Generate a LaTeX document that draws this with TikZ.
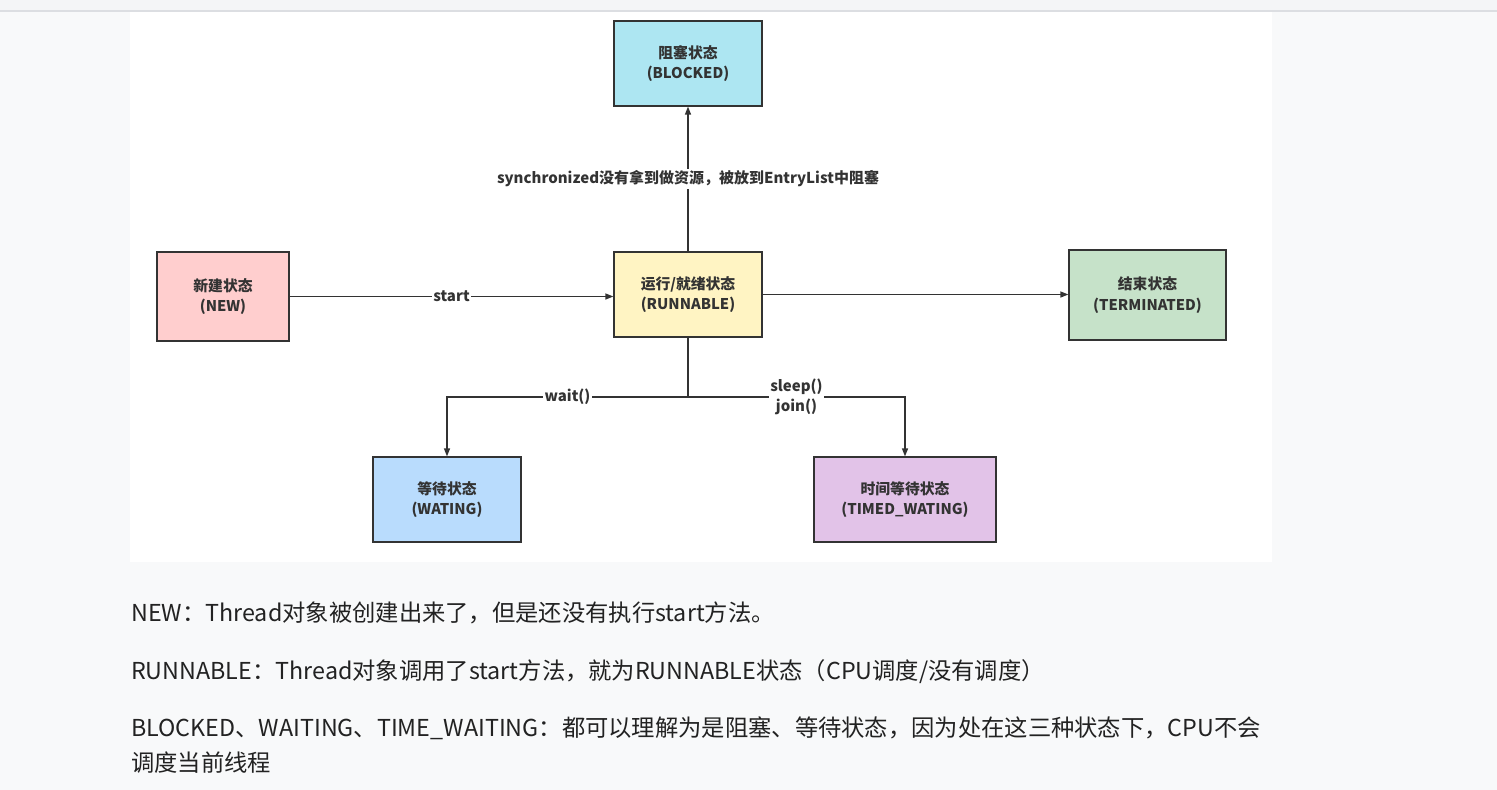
\documentclass[tikz,border=0pt]{standalone}
\usepackage{fontspec}
\setmainfont{Noto Sans CJK SC}
\usetikzlibrary{arrows.meta}
\definecolor{pagebg}{HTML}{F8F9FA}
\definecolor{topbar}{HTML}{F4F5F7}
\definecolor{topline}{HTML}{DCDEE2}
\definecolor{ink}{HTML}{333333}
\definecolor{bodyink}{HTML}{222222}
\definecolor{cblocked}{HTML}{ADE6F2}
\definecolor{cnew}{HTML}{FFCECE}
\definecolor{crun}{HTML}{FFF4C3}
\definecolor{cterm}{HTML}{C6E2C9}
\definecolor{cwait}{HTML}{B9DCFD}
\definecolor{ctimed}{HTML}{E2C3E8}
\tikzset{
  statebox/.style={draw=ink, line width=1.2pt, align=center, inner sep=0pt,
    font=\fontsize{14.8}{20.5}\selectfont\bfseries, text=ink},
  conn/.style={draw=ink, line width=1.3pt, -{Triangle[length=8pt,width=6pt]}},
  plain/.style={draw=ink, line width=1.3pt},
  elabel/.style={fill=white, inner sep=1.5pt, text=ink, align=center,
    font=\fontsize{15}{20}\selectfont\bfseries},
  bodytext/.style={anchor=base west, inner sep=0pt, text=bodyink,
    font=\fontsize{23.3}{27}\selectfont}
}
\begin{document}
\begin{tikzpicture}[x=1pt,y=-1pt]
\useasboundingbox (0,0) rectangle (1497,790);
\fill[pagebg] (0,0) rectangle (1497,790);
\fill[topbar] (0,0) rectangle (1497,10);
\fill[topline] (0,10) rectangle (1497,11.5);
\fill[white] (130,12) rectangle (1272,562);

\node[statebox, fill=cblocked, minimum width=148pt, minimum height=85pt] (blocked) at (688,63.5) {阻塞状态\\(BLOCKED)};
\node[statebox, fill=cnew, minimum width=132pt, minimum height=89pt] (new) at (223,296.5) {新建状态\\(NEW)};
\node[statebox, fill=crun, minimum width=148pt, minimum height=85pt] (run) at (688,294.5) {运行/就绪状态\\(RUNNABLE)};
\node[statebox, fill=cterm, minimum width=157pt, minimum height=90pt] (term) at (1147.5,295) {结束状态\\(TERMINATED)};
\node[statebox, fill=cwait, minimum width=148pt, minimum height=85pt] (wait) at (447,499.5) {等待状态\\(WATING)};
\node[statebox, fill=ctimed, minimum width=182pt, minimum height=85pt] (timed) at (905,499.5) {时间等待状态\\(TIMED\_WATING)};

\draw[conn] (new) -- node[elabel]{start} (new -| run.west);
\draw[conn] (run.north) -- node[elabel]{synchronized没有拿到做资源，被放到EntryList中阻塞} (blocked.south);
\draw[conn] (run.east) -- (run.east -| term.west);
\coordinate (split) at (688,397);
\draw[plain] (run.south) -- (split);
\draw[conn] (split) -| node[elabel, pos=0.25]{wait()} (wait.north);
\draw[conn] (split) -| node[elabel, pos=0.25]{sleep()\\join()} (timed.north);

\node[bodytext] (l1) at (131,621) {NEW：Thread对象被创建出来了，但是还没有执行start方法。};
\node[bodytext] (l2) at (131,679) {RUNNABLE：Thread对象调用了start方法，就为RUNNABLE状态（CPU调度/没有调度）};
\node[bodytext] (l3) at (131,736) {BLOCKED、WAITING、TIME\_WAITING：都可以理解为是阻塞、等待状态，因为处在这三种状态下，CPU不会};
\node[bodytext] (l4) at (131,771) {调度当前线程};
\end{tikzpicture}
\end{document}
